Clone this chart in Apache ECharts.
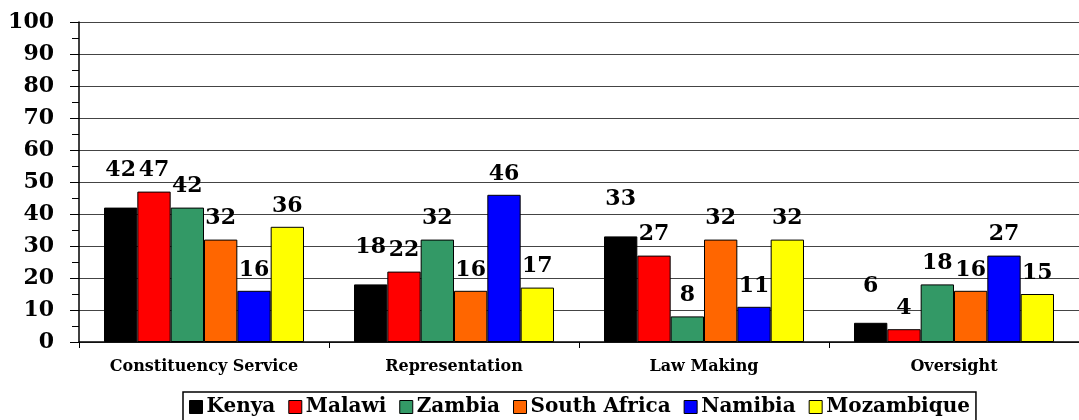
<!DOCTYPE html>
<html>
<head>
<meta charset="utf-8">
<script src="https://cdn.jsdelivr.net/npm/echarts@6/dist/echarts.min.js"></script>
<style>
  html, body { margin: 0; padding: 0; background: #fff; }
  #main { width: 1079px; height: 420px; }
</style>
</head>
<body>
<div id="main"></div>
<script>
  var categories = ['Constituency Service', 'Representation', 'Law Making', 'Oversight']
  var countries = ['Kenya', 'Malawi', 'Zambia', 'South Africa', 'Namibia', 'Mozambique']
  var kenya = [42, 18, 33, 6]
  var malawi = [47, 22, 27, 4]
  var zambia = [42, 32, 8, 18]
  var southAfrica = [32, 16, 32, 16]
  var namibia = [16, 46, 11, 27]
  var mozambique = [36, 17, 32, 15]
  var yTicks = [0, 10, 20, 30, 40, 50, 60, 70, 80, 90, 100]

  var values = [kenya, malawi, zambia, southAfrica, namibia, mozambique]
  var colors = ['#000000', '#ff0000', '#339966', '#ff6600', '#0000ff', '#ffff00']
  var serif = "'DejaVu Serif', 'Liberation Serif', serif"

  var myChart = echarts.init(document.getElementById('main'))

  var series = countries.map(function (name, i) {
    return {
      name: name,
      type: 'bar',
      data: values[i],
      barGap: 0,
      barCategoryGap: '20%',
      itemStyle: { color: colors[i], borderColor: '#000', borderWidth: 1 },
      label: {
        show: true,
        position: 'top',
        distance: i === 0 ? 26 : 10, // kenya labels sit higher in the original
        color: '#000',
        fontFamily: serif,
        fontWeight: 'bold',
        fontSize: 22
      }
    }
  })

  var option = {
    animation: false,
    backgroundColor: '#fff',
    grid: { left: 79, top: 22, width: 1007, height: 320, containLabel: false },
    legend: {
      bottom: -2,
      left: 183,
      data: countries,
      icon: 'rect',
      itemWidth: 13,
      itemHeight: 13,
      itemGap: 13,
      padding: [5, 6, 5, 6],
      borderColor: '#000',
      borderWidth: 1.5,
      itemStyle: { borderColor: '#000', borderWidth: 1 },
      textStyle: { fontFamily: serif, fontWeight: 'bold', fontSize: 20, color: '#000', padding: [0, 0, 0, -1] }
    },
    xAxis: {
      type: 'category',
      data: categories,
      axisLine: { lineStyle: { color: '#000', width: 1.5 } },
      axisTick: { show: true, length: 6, lineStyle: { color: '#000' } },
      axisLabel: { margin: 17, color: '#000', fontFamily: serif, fontWeight: 'bold', fontSize: 16 }
    },
    yAxis: {
      type: 'value',
      min: yTicks[0],
      max: yTicks[yTicks.length - 1],
      interval: 10,
      axisLine: { show: true, lineStyle: { color: '#000', width: 1.5 } },
      axisTick: { show: true, length: 9, lineStyle: { color: '#000' } },
      minorTick: { show: true, splitNumber: 2, length: 7, lineStyle: { color: '#000' } },
      splitLine: { show: true, lineStyle: { color: '#444', width: 1 } },
      axisLabel: { margin: 25, color: '#000', fontFamily: serif, fontWeight: 'bold', fontSize: 22 }
    },
    series: series
  }

  myChart.setOption(option)
</script>
</body>
</html>
